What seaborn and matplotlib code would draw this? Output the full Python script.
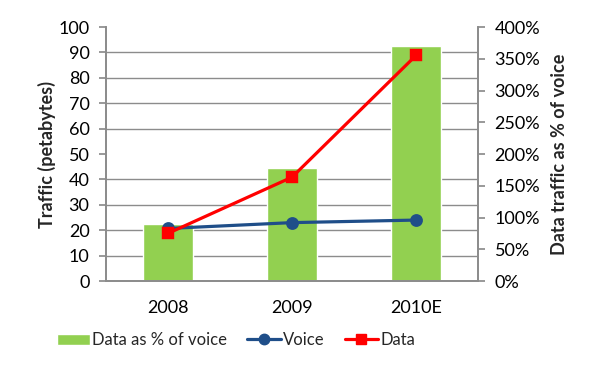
import numpy as np
import pandas as pd
import seaborn as sns
import matplotlib.pyplot as plt
from matplotlib.ticker import FuncFormatter, MultipleLocator
from matplotlib.patches import Patch
from matplotlib.lines import Line2D

# Data
years = ["2008", "2009", "2010E"]
voice = [20.7, 23.0, 24.0]          # petabytes
data = [18.8, 40.9, 88.8]           # petabytes
data_pct_voice = [90, 178, 370]     # %

GREEN = "#92D050"
BLUE = "#1F4E89"
RED = "#FF0000"
GRID = "#8C8C8C"

sns.set_theme(style="white")
plt.rcParams["font.family"] = ["Lato", "DejaVu Sans"]

bars_df = pd.DataFrame({"Year": years, "Pct": data_pct_voice})
lines_df = pd.DataFrame({
    "Year": years * 2,
    "Traffic": voice + data,
    "Series": ["Voice"] * len(years) + ["Data"] * len(years),
})

fig = plt.figure(figsize=(5.9, 3.65), dpi=100)
ax = fig.add_axes([0.18, 0.23, 0.63, 0.696])   # bars, % scale (right side)
ax2 = ax.twinx()                                # lines, petabytes (left side)

sns.barplot(data=bars_df, x="Year", y="Pct", color=GREEN, width=0.4,
            saturation=1, ax=ax, zorder=2)
sns.pointplot(data=lines_df, x="Year", y="Traffic", hue="Series",
              palette={"Voice": BLUE, "Data": RED}, markers=["o", "s"],
              linestyles=["-", "-"], errorbar=None, legend=False,
              markersize=7.5, linewidth=2.3, ax=ax2)

# % axis on the right
ax.set_ylim(0, 400)
ax.yaxis.tick_right()
ax.yaxis.set_label_position("right")
ax.yaxis.set_major_locator(MultipleLocator(50))
ax.yaxis.set_major_formatter(FuncFormatter(lambda v, p: f"{v:.0f}%"))
ax.set_ylabel("Data traffic as % of voice", fontsize=13, fontweight="bold",
              labelpad=8)
# gridlines follow the left (petabytes) ticks: every 10 PB = 40 %
ax.yaxis.set_minor_locator(MultipleLocator(40))
ax.grid(axis="y", which="minor", color=GRID, linewidth=1, zorder=0)
ax.set_axisbelow(True)

# petabyte axis on the left
ax2.set_ylim(0, 100)
ax2.yaxis.tick_left()
ax2.yaxis.set_label_position("left")
ax2.yaxis.set_major_locator(MultipleLocator(10))
ax2.set_ylabel("Traffic (petabytes)", fontsize=13, fontweight="bold",
               labelpad=2)

# x axis: labels at centres, ticks at category boundaries
ax.set_xlim(-0.5, len(years) - 0.5)
ax.set_xticks(range(len(years)))
ax.set_xticklabels(years)
ax.set_xticks(np.arange(-0.5, len(years)), minor=True)
ax.set_xlabel("")
ax2.set_xlabel("")

for a in (ax, ax2):
    for s in a.spines.values():
        s.set_color(GRID)
    a.spines["top"].set_visible(False)
    a.tick_params(axis="both", which="both", labelsize=13, colors="black")
    a.tick_params(axis="y", which="major", length=5, color=GRID,
                  direction="out", pad=7)
    a.tick_params(axis="y", which="minor", length=0)
ax.tick_params(axis="x", which="major", length=0, pad=14)
ax.tick_params(axis="x", which="minor", length=5, color=GRID, direction="out")
ax2.tick_params(axis="x", which="both", length=0)

handles = [
    Patch(facecolor=GREEN, label="Data as % of voice"),
    Line2D([], [], color=BLUE, marker="o", markersize=7.5, linewidth=2.3, label="Voice"),
    Line2D([], [], color=RED, marker="s", markersize=7.5, linewidth=2.3, label="Data"),
]
fig.legend(handles=handles, loc="center", bbox_to_anchor=(0.40, 0.068),
           ncol=3, frameon=False, fontsize=12, handlelength=2.0,
           handletextpad=0.15, columnspacing=1.2)

fig.savefig("out.png", dpi=100)
